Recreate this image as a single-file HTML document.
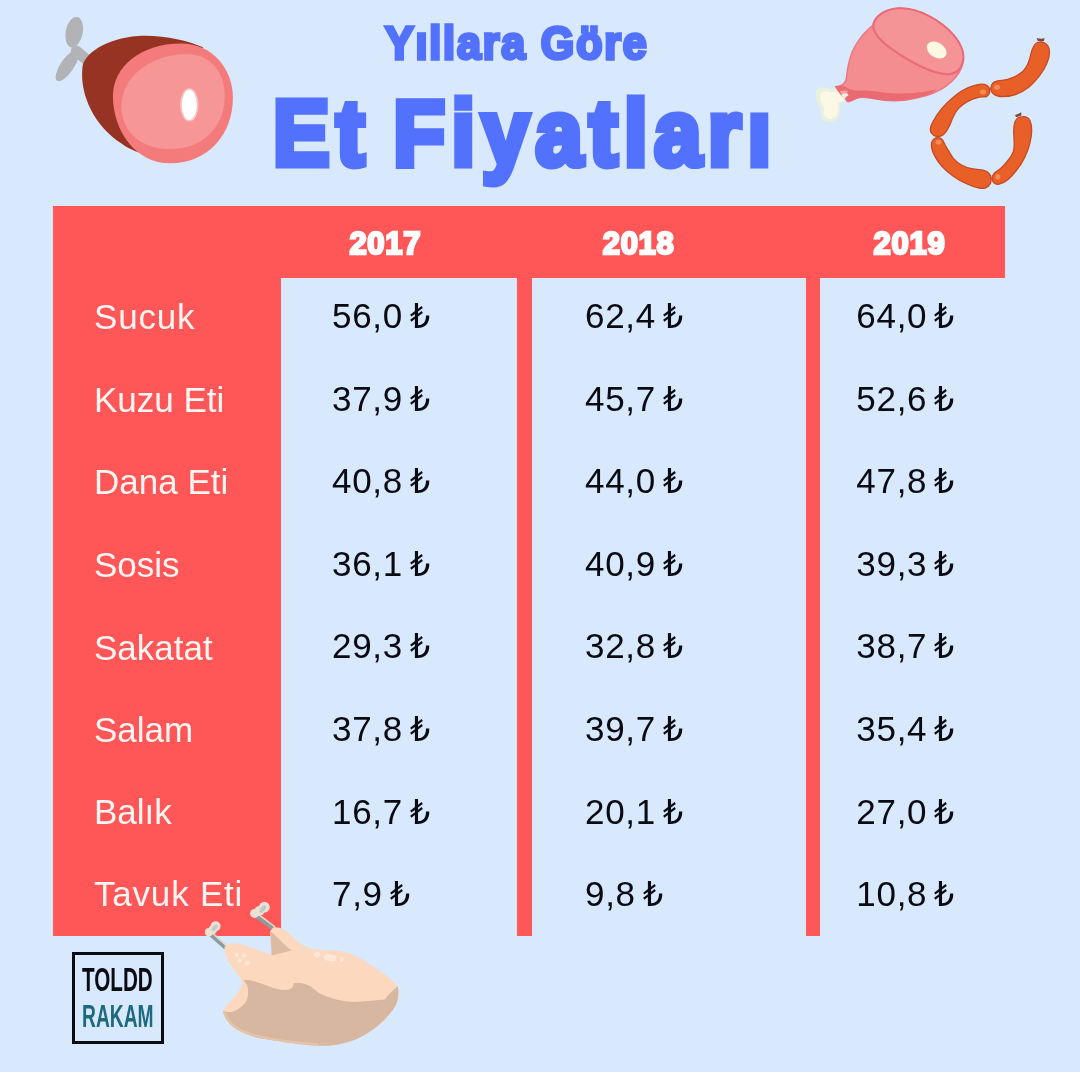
<!DOCTYPE html>
<html lang="tr">
<head>
<meta charset="utf-8">
<title>Yıllara Göre Et Fiyatları</title>
<style>
html,body{margin:0;padding:0;}
body{width:1080px;height:1080px;overflow:hidden;background:#fff;position:relative;font-family:"Liberation Sans",sans-serif;}
#bg{position:absolute;left:0;top:0;width:1080px;height:1071.5px;background:#D8E8FD;}
.red{position:absolute;background:#FF5757;}
.t1,.t2{position:absolute;white-space:nowrap;color:#5271FC;font-weight:bold;font-family:"Liberation Sans",sans-serif;-webkit-text-stroke-color:#5271FC;paint-order:stroke fill;line-height:1;}
.t1{left:385px;top:20px;font-size:43px;-webkit-text-stroke-width:3.2px;letter-spacing:1.85px;transform:scaleY(1.083);transform-origin:0 0;}
.t2{left:273px;top:87.5px;font-size:84.8px;-webkit-text-stroke-width:6.3px;letter-spacing:6.6px;word-spacing:-8px;transform:scaleY(1.083);transform-origin:0 0;}
.yr{position:absolute;top:228px;color:#fff;font-weight:bold;font-size:31px;line-height:1;-webkit-text-stroke:2.4px #fff;paint-order:stroke fill;white-space:nowrap;transform:translateX(-50%);letter-spacing:0.7px;}
.lab{position:absolute;left:94px;color:#FFF5F3;font-size:35px;line-height:40px;white-space:nowrap;}
.pr{position:absolute;color:#0A0A12;font-size:35px;line-height:40px;white-space:nowrap;letter-spacing:0.7px;margin-top:-1px;}
.pr i{font-style:normal;font-family:"DejaVu Sans",sans-serif;font-size:34px;line-height:40px;margin-left:-3.4px;letter-spacing:0;display:inline-block;transform:scaleX(0.93);transform-origin:0 50%;}
#logo{position:absolute;left:72px;top:952px;width:86px;height:86px;border:3px solid #0B0B12;}
#logo div{position:absolute;left:0;white-space:nowrap;font-weight:bold;line-height:1;transform-origin:0 0;}
svg{position:absolute;left:0;top:0;}
</style>
</head>
<body>
<div id="bg"></div>
<div class="red" style="left:53px;top:206px;width:952px;height:72px;"></div>
<div class="red" style="left:53px;top:206px;width:228px;height:730px;"></div>
<div class="red" style="left:517px;top:206px;width:14.5px;height:730px;"></div>
<div class="red" style="left:806px;top:206px;width:14px;height:730px;"></div>

<div class="t1">Yıllara Göre</div>
<div class="t2">Et Fiyatları</div>

<div class="yr" style="left:385.3px;">2017</div>
<div class="yr" style="left:638.6px;">2018</div>
<div class="yr" style="left:909.5px;">2019</div>

<div class="lab" style="top:297px;letter-spacing:0.8px;">Sucuk</div>
<div class="lab" style="top:379.5px;">Kuzu Eti</div>
<div class="lab" style="top:462px;">Dana Eti</div>
<div class="lab" style="top:544.5px;">Sosis</div>
<div class="lab" style="top:627.6px;">Sakatat</div>
<div class="lab" style="top:709.5px;">Salam</div>
<div class="lab" style="top:792px;">Balık</div>
<div class="lab" style="top:874px;letter-spacing:0.8px;">Tavuk Eti</div>

<div class="pr" style="left:332px;top:297px;">56,0 <i>₺</i></div>
<div class="pr" style="left:332px;top:379.5px;">37,9 <i>₺</i></div>
<div class="pr" style="left:332px;top:462px;">40,8 <i>₺</i></div>
<div class="pr" style="left:332px;top:544.5px;">36,1 <i>₺</i></div>
<div class="pr" style="left:332px;top:627px;">29,3 <i>₺</i></div>
<div class="pr" style="left:332px;top:709.5px;">37,8 <i>₺</i></div>
<div class="pr" style="left:332px;top:792.5px;">16,7 <i>₺</i></div>
<div class="pr" style="left:332px;top:875.2px;">7,9 <i>₺</i></div>

<div class="pr" style="left:585px;top:297px;">62,4 <i>₺</i></div>
<div class="pr" style="left:585px;top:379.5px;">45,7 <i>₺</i></div>
<div class="pr" style="left:585px;top:462px;">44,0 <i>₺</i></div>
<div class="pr" style="left:585px;top:544.5px;">40,9 <i>₺</i></div>
<div class="pr" style="left:585px;top:627px;">32,8 <i>₺</i></div>
<div class="pr" style="left:585px;top:709.5px;">39,7 <i>₺</i></div>
<div class="pr" style="left:585px;top:792.5px;">20,1 <i>₺</i></div>
<div class="pr" style="left:585px;top:875.2px;">9,8 <i>₺</i></div>

<div class="pr" style="left:856.3px;top:297px;">64,0 <i>₺</i></div>
<div class="pr" style="left:856.3px;top:379.5px;">52,6 <i>₺</i></div>
<div class="pr" style="left:856.3px;top:462px;">47,8 <i>₺</i></div>
<div class="pr" style="left:856.3px;top:544.5px;">39,3 <i>₺</i></div>
<div class="pr" style="left:856.3px;top:627px;">38,7 <i>₺</i></div>
<div class="pr" style="left:856.3px;top:709.5px;">35,4 <i>₺</i></div>
<div class="pr" style="left:856.3px;top:792.5px;">27,0 <i>₺</i></div>
<div class="pr" style="left:856.3px;top:875.2px;">10,8 <i>₺</i></div>

<div id="logo">
  <div style="top:9px;left:7px;font-size:32.5px;color:#0B0B12;transform:scaleX(0.635);">TOLDD</div>
  <div style="top:46px;left:7px;font-size:31.5px;color:#1D6A7E;transform:scaleX(0.61);">RAKAM</div>
</div>

<svg id="art" width="1080" height="1080" viewBox="0 0 1080 1080">
<!--ART-->
<!-- HAM: zoom region [40,0,260,180], scale 4.909 -->
<g id="ham" transform="translate(40,0) scale(0.2037)">
  <g fill="#B1B3B7" stroke="none">
    <ellipse cx="168" cy="158" rx="42" ry="76" transform="rotate(11 168 158)"/>
    <ellipse cx="134" cy="322" rx="33" ry="90" transform="rotate(34 134 322)"/>
    <path d="M178,250 L255,315" stroke="#B1B3B7" stroke-width="54" stroke-linecap="round"/>
  </g>
  <path fill="#963322" d="M208,335 C212,262 330,188 480,177 C600,170 720,198 800,232 L640,780 C540,770 450,745 400,705 C270,620 195,470 208,335 Z"/>
  <path fill="#F47B7C" d="M358,470 C358,325 500,213 690,213 C850,213 947,340 947,480 C947,662 822,802 640,802 C468,802 358,642 358,470 Z"/>
  <path fill="#F69697" d="M400,520 C400,380 540,266 720,266 C850,266 907,368 907,470 C907,622 800,732 640,732 C500,732 400,652 400,520 Z"/>
  <ellipse cx="733" cy="515" rx="41" ry="78" fill="#FFFFFF" stroke="#FBC4C4" stroke-width="8"/>
</g>
<!-- MEAT LEG: zoom region [800,0,1000,140], scale 5.4 -->
<g id="leg" transform="translate(800,0) scale(0.185185)">
  <!-- bone -->
  <path fill="#E9F0DD" d="M85,500 C85,470 130,465 160,480 L235,470 L250,545 L215,560 C225,610 210,655 160,660 C115,660 105,615 112,585 C90,560 82,530 85,500 Z"/>
  <path fill="#FBF9E6" d="M108,515 C112,490 150,490 170,500 L240,490 L250,540 L205,555 C212,600 200,640 162,642 C128,640 122,605 130,580 C112,560 105,535 108,515 Z"/>
  <!-- body -->
  <path fill="#F38D90" stroke="#ED7580" stroke-width="8" stroke-linejoin="round" d="M192,468 C225,466 246,455 250,425 C253,395 258,360 266,330 C286,250 340,180 395,135 C400,100 440,55 530,45 C640,40 760,110 830,190 C880,250 895,310 870,370 C840,440 760,500 640,527 C560,548 470,548 404,534 C370,527 345,522 320,527 C300,532 280,543 259,550 C245,535 215,505 192,468 Z"/>
  <!-- darker band along the bottom + folds near tip -->
  <path fill="#EA6A74" d="M192,468 C215,460 238,462 252,472 C275,492 330,488 354,489 C400,491 430,497 454,499 C520,506 620,511 740,482 C715,502 680,517 640,527 C560,548 470,548 404,534 C370,527 345,522 320,527 C300,532 280,543 259,550 C245,535 215,505 192,468 Z"/>
  <path fill="#F6A3A2" d="M214,492 C232,486 250,488 262,496 C250,500 238,508 230,516 Z"/>
  <path fill="#FBE9E2" d="M222,512 C232,505 244,502 256,504 L262,516 C252,520 244,528 240,538 Z"/>
  <!-- top face -->
  <path fill="#F59496" stroke="#EA6A78" stroke-width="11" stroke-linejoin="round" d="M395,140 C398,95 450,50 530,45 C640,40 760,110 830,190 C880,250 895,310 870,360 C850,395 810,405 770,398 C690,385 610,340 540,295 C470,250 400,200 395,140 Z"/>
  <ellipse cx="738" cy="270" rx="58" ry="40" transform="rotate(32 738 270)" fill="#FCF8E2"/>
</g>
<!-- SAUSAGES: zoom region [900,20,1080,200], scale 6 -->
<g id="saus" transform="translate(900,20) scale(0.166667)">
  <g fill="#E95F28" stroke="#C54C22" stroke-width="8" stroke-linejoin="round">
    <path d="M800,162 C810,140 830,132 846,133 C870,134 892,150 895,175 C900,200 895,230 880,262 C868,290 852,315 835,337 C815,362 792,388 768,407 C745,425 720,438 693,447 C665,456 640,460 613,460 C590,460 572,452 560,442 C548,432 543,418 545,406 C547,392 552,382 560,375 C575,364 595,363 613,362 C637,360 660,353 680,344 C702,334 722,322 738,308 C752,294 762,277 769,260 C777,240 782,222 786,202 C789,188 794,174 800,162 Z"/>
    <path d="M520,392 C532,400 538,412 538,423 C538,440 530,452 520,459 C505,462 490,461 476,463 C450,468 425,478 404,490 C383,502 365,515 351,530 C336,547 324,567 316,588 C307,608 302,626 293,641 C284,660 272,680 258,690 C246,698 234,700 222,699 C208,697 196,690 191,681 C184,672 181,663 182,654 C184,640 189,627 196,614 C209,588 225,562 244,539 C266,512 292,486 320,463 C348,440 378,419 409,406 C431,396 453,389 476,386 C492,384 508,385 520,392 Z"/>
    <path d="M226,706 C242,706 256,716 262,732 C270,750 278,766 289,781 C298,799 308,815 320,830 C334,846 350,860 369,870 C388,881 409,888 431,892 C454,896 476,898 498,901 C512,904 525,910 533,919 C542,928 546,939 547,950 C547,962 546,972 542,981 C536,994 525,1003 511,1008 C500,1010 488,1010 476,1008 C448,1003 420,993 396,981 C368,968 343,954 320,937 C295,919 272,900 253,879 C235,860 220,838 209,817 C199,799 192,781 189,763 C187,752 188,741 191,732 C198,716 210,706 226,706 Z"/>
    <path d="M740,580 C760,580 774,590 780,605 C787,622 790,640 790,660 C790,686 786,711 780,735 C773,765 763,793 750,820 C737,849 720,876 700,900 C684,922 665,942 645,960 C630,972 612,981 595,985 C582,987 570,983 562,975 C556,968 552,959 552,950 C553,939 558,929 565,920 C577,909 591,900 605,890 C621,875 637,858 650,840 C662,825 673,808 680,790 C685,772 686,753 685,735 C685,713 683,692 682,670 C682,650 684,628 690,610 C698,592 718,580 740,580 Z"/>
  </g>
  <g fill="#F58A52" stroke="none">
    <ellipse cx="582" cy="403" rx="18" ry="15"/>
    <ellipse cx="498" cy="432" rx="19" ry="15"/>
    <ellipse cx="231" cy="733" rx="17" ry="14"/>
    <ellipse cx="587" cy="941" rx="15" ry="17"/>
  </g>
  <g fill="#7E4636" stroke="none">
    <path d="M820,108 C836,114 852,114 868,110 L862,128 C850,130 836,128 826,124 Z"/>
    <path d="M690,570 C702,568 716,562 727,554 L729,572 C718,580 706,582 696,582 Z"/>
  </g>
</g>
<!-- CHICKEN (source coordinates) -->
<g id="chicken">
  <!-- bones -->
  <g stroke-linecap="round" fill="none">
    <path d="M210.4,934.6 L224.6,947.2" stroke="#8D9B9B" stroke-width="3.6"/>
    <path d="M212,932.6 L226.2,945.4" stroke="#DCD8CD" stroke-width="1.6"/>
    <path d="M256.2,916.2 L273,928.8" stroke="#8D9B9B" stroke-width="3.8"/>
    <path d="M257.8,914 L274.6,926.6" stroke="#DCD8CD" stroke-width="1.6"/>
  </g>
  <g fill="#EBE1D5">
    <circle cx="215.6" cy="926.2" r="5"/><circle cx="209" cy="932.2" r="4.1"/><circle cx="212.6" cy="929.8" r="4.4"/>
    <circle cx="264.4" cy="907.2" r="5.4"/><circle cx="254.6" cy="913.4" r="4.5"/><circle cx="259.6" cy="910.8" r="4.9"/>
  </g>
  <g fill="#BFCCC6">
    <ellipse cx="214.6" cy="927.8" rx="2.1" ry="4" transform="rotate(42 214.6 927.8)"/>
    <ellipse cx="262.8" cy="909" rx="2.3" ry="4.4" transform="rotate(42 262.8 909)"/>
  </g>
  <!-- light body -->
  <path fill="#FCD9BE" d="M224.4,946.7
C 229,943 235,942.5 240,944
C 250,946.5 262,952 271.7,955.5
L 270,931.7 L 273,927.5
C 280,926 288,931 295,939.4
C 299,943 306,947 312.2,948.9
C 322,950.5 332,950 340,951.1
C 352,953.5 362,959 367.8,963.3
C 376,968.5 383,973 387.8,976.7
C 392,980 396,984 397.8,986.7
C 399,990 398.5,998 396.7,1003.3
C 394,1010 386,1019 376.7,1026.7
C 370,1032 362,1036.5 356.7,1038.9
C 348,1042.5 340,1044 334.4,1045
C 325,1046 318,1046 312.2,1045.6
C 300,1044.5 285,1042.5 277.8,1041.1
C 268,1039.5 262,1038.5 255.6,1037.2
C 248,1035 242,1032.5 237.8,1030
C 232,1026.5 228.5,1023 226.7,1020
C 224.5,1016.5 223.3,1014 223.3,1011
C 226,1007 227,1004.5 228.9,1002.2
C 232,999 235,997 236.7,994.4
C 240,990 241.5,986 242.8,981.5
C 240,978 238.5,976 236.7,973.3
C 234,969.5 231,966 228.9,962.2
C 226.5,958 224.5,953 224.4,946.7 Z"/>
  <!-- shade -->
  <path fill="#D7B7A1" d="M243.5,980.5
C 246,980 248,980 250,980.3
C 256,981.5 261,983.5 266.7,985.6
C 271,987.5 275.5,989 280,989.4
C 283,989.8 286,989.9 288.9,989.4
C 291,988.8 292.3,987.8 292.8,986.7
C 293.3,985.5 293.3,984 293.9,983.3
C 296,982.5 299.5,982.6 302.2,983.3
C 305.5,984.2 308.5,985.3 311.1,986.7
C 313.5,988.3 315.5,990.3 317.8,992.2
C 323,995.5 329,997.5 334.4,998.9
C 340,1000.3 345.5,1001.3 351.1,1001.7
C 357,1002 362.5,1001.6 367.8,1001.1
L 384.4,999.4 L 390,993.3 L 397.6,986.3
C 399,990 398.5,998 396.7,1003.3
C 394,1010 386,1019 376.7,1026.7
C 370,1032 362,1036.5 356.7,1038.9
C 348,1042.5 340,1044 334.4,1045
C 325,1046 318,1046 312.2,1045.6
C 300,1044.5 285,1042.5 277.8,1041.1
C 268,1039.5 262,1038.5 255.6,1037.2
C 248,1035 242,1032.5 237.8,1030
C 232,1026.5 228.5,1023 226.7,1020
C 224.5,1016.5 223.3,1014 223.3,1011
C 226,1012 229.5,1012.2 232.2,1011.7
C 235.5,1010.8 238,1009.5 240,1007.8
C 243.5,1005 246,1002.5 247.2,998.9
C 248.3,995.5 248.3,991.5 247.8,987.8
C 247.2,985 245.5,982.5 243.5,980.5 Z"/>
  <path fill="#DDBBA2" d="M270.3,931 L271.7,955.6 L291.7,950.6 C286,946 282,942 279.4,939.4 C276,936 273,933 270.3,931 Z"/>
  <path fill="none" stroke="#E7C4A9" stroke-width="2.2" stroke-linecap="round" d="M225,1013.5 C226.5,1018 231,1024.5 238.4,1029 C246,1033.6 262,1037.4 278,1040 C290,1041.8 300,1042.8 318,1044.4"/>
  <!-- highlights -->
  <g fill="#FEE7D6">
    <circle cx="236.7" cy="955" r="2.1"/><circle cx="243.9" cy="955.6" r="2.2"/>
    <circle cx="239.4" cy="960.6" r="2.2"/><circle cx="247.4" cy="963" r="2.6"/>
    <circle cx="317.2" cy="954.4" r="3"/>
    <rect x="324" y="954.6" width="12.5" height="6.4" rx="3.2" transform="rotate(8 330 957.8)"/>
    <ellipse cx="341.7" cy="959.6" rx="1.8" ry="2.4"/>
  </g>
</g>
</svg>
</body>
</html>
